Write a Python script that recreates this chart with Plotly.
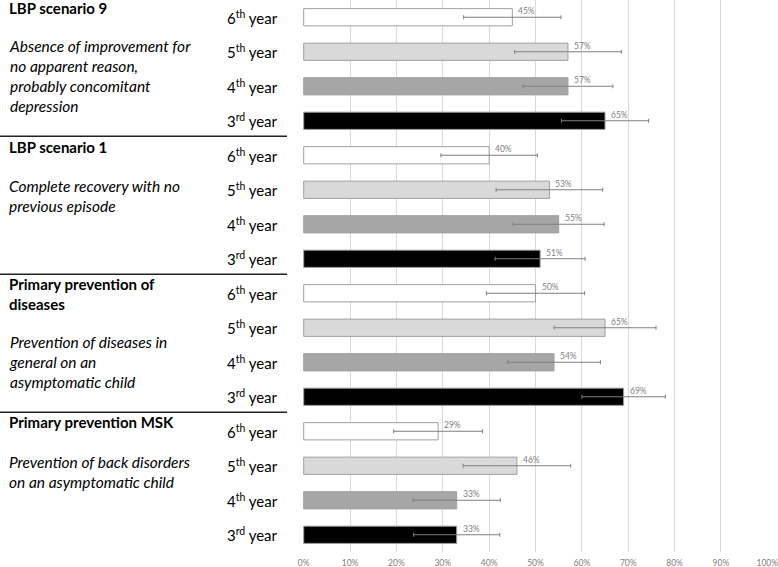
import plotly.graph_objects as go

# ---------------- data ----------------
years = ["6<sup>th</sup> year", "5<sup>th</sup> year", "4<sup>th</sup> year", "3<sup>rd</sup> year"]
groups = ["LBP scenario 9", "LBP scenario 1", "Primary prevention of diseases", "Primary prevention MSK"]

lbp9_values = [45, 57, 57, 65]
lbp9_errors = [10.5, 11.5, 9.7, 9.4]
lbp1_values = [40, 53, 55, 51]
lbp1_errors = [10.4, 11.5, 9.8, 9.7]
disease_values = [50, 65, 54, 69]
disease_errors = [10.6, 11.0, 10.0, 9.0]
msk_values = [29, 46, 33, 33]
msk_errors = [9.6, 11.6, 9.4, 9.3]

group_values = [lbp9_values, lbp1_values, disease_values, msk_values]
group_errors = [lbp9_errors, lbp1_errors, disease_errors, msk_errors]

x_ticks = [0, 10, 20, 30, 40, 50, 60, 70, 80, 90, 100]

group_titles = ["LBP scenario 9", "LBP scenario 1", "Primary prevention of<br>diseases", "Primary prevention MSK"]
group_descs = [
    "Absence of improvement for<br>no apparent reason,<br>probably concomitant<br>depression",
    "Complete recovery with no<br>previous episode",
    "Prevention of diseases in<br>general on an<br>asymptomatic child",
    "Prevention of back disorders<br>on an asymptomatic child",
]

# ---------------- style ----------------
year_fill = ["#ffffff", "#d9d9d9", "#a6a6a6", "#000000"]
W, H = 778, 567
ML, MR, MT, MB = 303, 10, 0, 15
FONT = "Lato"

fig = go.Figure()

n_years = len(years)
for yi in range(n_years):
    rows = [gi * n_years + yi for gi in range(len(groups))]
    vals = [group_values[gi][yi] for gi in range(len(groups))]
    errs = [group_errors[gi][yi] for gi in range(len(groups))]
    fig.add_trace(go.Bar(
        orientation="h", x=vals, y=rows, width=0.5,
        marker=dict(color=year_fill[yi], line=dict(color="#a0a0a0", width=1)),
        error_x=dict(type="data", array=errs, visible=True, color="#7f7f7f",
                     thickness=1, width=2),
        showlegend=False, hoverinfo="skip",
    ))

annotations = []
# value labels
for gi in range(len(groups)):
    for yi in range(n_years):
        v = group_values[gi][yi]
        annotations.append(dict(
            x=v, y=gi * n_years + yi, xref="x", yref="y", text=f"{v}%",
            showarrow=False, xanchor="left", yanchor="middle", xshift=4, yshift=6,
            font=dict(family=FONT, size=8.5, color="#808080"),
        ))

plot_w = W - ML - MR
plot_h = H - MT - MB


def px_x(px):
    return (px - ML) / plot_w


def px_y(py):
    return 1 - (py - MT) / plot_h


# year labels
for gi in range(len(groups)):
    for yi in range(n_years):
        annotations.append(dict(
            x=px_x(280), y=gi * n_years + yi, xref="paper", yref="y",
            text=years[yi], showarrow=False, xanchor="right", yanchor="middle",
            font=dict(family=FONT, size=15, color="#000000"),
        ))

# group titles / descriptions
title_y = [-3, 136, 273, 411]
desc_y = [35, 175, 331, 451]
for gi in range(len(groups)):
    annotations.append(dict(
        x=px_x(7), y=px_y(title_y[gi]), xref="paper", yref="paper",
        text="<b>" + group_titles[gi] + "</b>", showarrow=False,
        xanchor="left", yanchor="top", align="left",
        font=dict(family=FONT, size=15, color="#000000"),
    ))
    annotations.append(dict(
        x=px_x(7), y=px_y(desc_y[gi]), xref="paper", yref="paper",
        text="<i>" + group_descs[gi] + "</i>", showarrow=False,
        xanchor="left", yanchor="top", align="left",
        font=dict(family=FONT, size=15.5, color="#000000"),
    ))

shapes = []
for gi in range(1, len(groups)):
    yline = gi * n_years - 0.55
    shapes.append(dict(type="line", xref="paper", yref="y",
                       x0=px_x(0), x1=px_x(287), y0=yline, y1=yline,
                       line=dict(color="#222222", width=1.5)))

fig.update_layout(
    width=W, height=H,
    margin=dict(l=ML, r=MR, t=MT, b=MB),
    paper_bgcolor="white", plot_bgcolor="white",
    barmode="overlay",
    annotations=annotations, shapes=shapes,
    font=dict(family=FONT),
)
fig.update_xaxes(
    range=[-0.15, 100.15], tickvals=x_ticks, ticktext=[f"{t}%" for t in x_ticks],
    showgrid=True, gridcolor="#d9d9d9", gridwidth=1, zeroline=False,
    showline=False, tickfont=dict(family=FONT, size=8.5, color="#808080"),
    automargin=False, ticklen=0, ticklabelstandoff=4, ticklabeloverflow="allow",
)
fig.update_yaxes(
    range=[len(groups) * n_years - 0.5, -0.5], showticklabels=False,
    showgrid=False, zeroline=False, showline=False, automargin=False,
)

fig.write_html("out.html", config={"displayModeBar": False},
               post_script="document.body.style.margin='0';")
